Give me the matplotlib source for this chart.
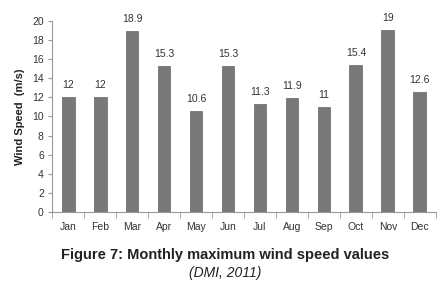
import matplotlib.pyplot as plt
import numpy as np

months = ['Jan', 'Feb', 'Mar', 'Apr', 'May', 'Jun', 'Jul', 'Aug', 'Sep', 'Oct', 'Nov', 'Dec']
wind_max = [12, 12, 18.9, 15.3, 10.6, 15.3, 11.3, 11.9, 11, 15.4, 19, 12.6]
value_labels = ['12', '12', '18.9', '15.3', '10.6', '15.3', '11.3', '11.9', '11', '15.4', '19', '12.6']
y_ticks = [0, 2, 4, 6, 8, 10, 12, 14, 16, 18, 20]

plt.rcParams['font.family'] = ['Liberation Sans', 'DejaVu Sans']

fig = plt.figure(figsize=(4.42, 2.85), dpi=100)
ax = fig.add_axes([0.118, 0.256, 0.868, 0.671])

x = np.arange(len(months))
bars = ax.bar(x, wind_max, width=0.4, color='#787878', edgecolor='#666666', linewidth=0.5)

# labels au-dessus des barres
for xi, v, lab in zip(x, wind_max, value_labels):
    ax.annotate(lab, (xi, v), xytext=(0, 5), textcoords='offset points',
                ha='center', va='bottom', fontsize=7.5, color='#333333')

ax.set_xlim(-0.5, len(months) - 0.5)
ax.set_ylim(0, 20)
ax.set_yticks(y_ticks)
ax.tick_params(axis='y', labelsize=7.5, length=3, color='#999999', pad=3, labelcolor='#333333')

# ticks x entre les catégories
ax.set_xticks(x)
ax.set_xticklabels(months, fontsize=7.5, color='#333333')
ax.tick_params(axis='x', length=0, pad=7)
ax.set_xticks(np.arange(-0.5, len(months), 1), minor=True)
ax.tick_params(axis='x', which='minor', length=4, color='#999999')

for s in ['top', 'right']:
    ax.spines[s].set_visible(False)
ax.spines['left'].set_color('#999999')
ax.spines['bottom'].set_color('#999999')

ax.set_ylabel('Wind Speed  (m/s)', fontsize=8, fontweight='bold', labelpad=5, color='#222222')

fig.text(0.51, 0.105, 'Figure 7: Monthly maximum wind speed values', ha='center', va='center',
         fontsize=10.5, fontweight='bold', color='#222222')
fig.text(0.51, 0.042, '(DMI, 2011)', ha='center', va='center', fontsize=10,
         style='italic', color='#222222')

plt.savefig('out.png', dpi=100)
